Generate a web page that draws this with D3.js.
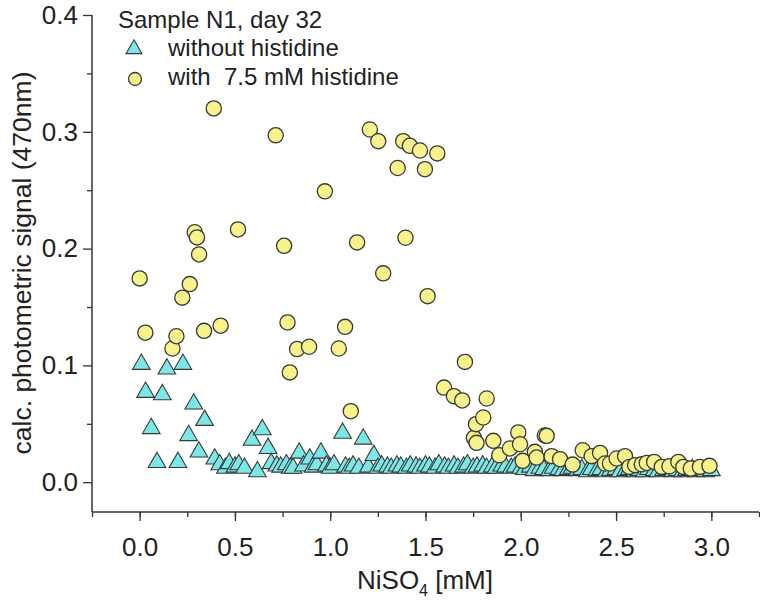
<!DOCTYPE html>
<html>
<head>
<meta charset="utf-8">
<script src="https://cdn.jsdelivr.net/npm/d3@7"></script>
<style>
  html, body { margin: 0; padding: 0; background: #fff; }
  svg text { font-family: "Liberation Sans", Arial, sans-serif; fill: #222; }
</style>
</head>
<body>
<svg id="chart" width="760" height="600"></svg>
<script>
// ---- data ----
const legendTitle = "Sample N1, day 32";
const seriesNames = ["without histidine", "with  7.5 mM histidine"];
const xTicks = [0.0, 0.5, 1.0, 1.5, 2.0, 2.5, 3.0];
const yTicks = [0.0, 0.1, 0.2, 0.3, 0.4];

// without histidine (triangles)
const xWithout = [0.009,0.031,0.061,0.091,0.119,0.143,0.201,0.227,0.257,0.284,0.311,0.341,0.394,
  0.42,0.45,0.47,0.50,0.52,0.55,0.59,0.618,0.644,0.674,0.69,0.72,0.74,0.77,0.79,0.805,0.837,0.86,0.893,0.91,0.93,0.951,0.98,1.00,1.02,1.065,1.08,1.10,1.12,1.15,1.173,1.20,1.229,1.25,1.27,1.30,1.32,1.35,1.37,1.40,1.42,1.45,1.47,1.50,1.52,1.55,1.57,1.60,1.62,1.65,1.67,1.70,1.72,1.75,1.77,1.80,1.82,1.85,1.87,1.90,1.92,1.95,1.97,2.00,2.02,2.05,2.07,2.10,2.12,2.15,2.17,2.20,2.22,2.25,2.27,2.30,2.32,2.35,2.37,2.40,2.42,2.45,2.47,2.50,2.52,2.55,2.57,2.60,2.62,2.65,2.67,2.70,2.72,2.75,2.77,2.80,2.82,2.85,2.87,2.90,2.92,2.95,2.97,3.00];
const yWithout = [0.101,0.077,0.046,0.017,0.075,0.097,0.017,0.101,0.040,0.067,0.026,0.053,0.020,
  0.015,0.012,0.016,0.013,0.015,0.012,0.036,0.009,0.045,0.029,0.016,0.014,0.013,0.015,0.012,0.012,0.025,0.014,0.020,0.013,0.015,0.025,0.014,0.012,0.015,0.042,0.013,0.012,0.014,0.012,0.037,0.013,0.023,0.012,0.014,0.013,0.012,0.014,0.013,0.012,0.014,0.013,0.012,0.014,0.013,0.012,0.015,0.013,0.012,0.014,0.012,0.013,0.015,0.012,0.013,0.014,0.012,0.013,0.012,0.014,0.013,0.012,0.013,0.012,0.011,0.013,0.010,0.012,0.011,0.010,0.012,0.011,0.010,0.011,0.012,0.010,0.011,0.009,0.011,0.010,0.011,0.009,0.010,0.011,0.009,0.010,0.011,0.009,0.010,0.009,0.011,0.010,0.009,0.010,0.011,0.009,0.010,0.009,0.010,0.011,0.009,0.010,0.009,0.010];

// with 7.5 mM histidine (circles)
const xWith = [0.000,0.030,0.172,0.193,0.224,0.263,0.289,0.301,0.312,0.338,0.389,0.425,0.516,0.714,0.758,0.776,0.788,0.826,0.889,0.972,1.045,1.078,1.108,1.141,1.208,1.252,1.278,1.354,1.383,1.395,1.418,1.471,1.497,1.511,1.562,1.597,1.649,1.693,1.707,1.754,1.765,1.768,1.803,1.821,1.856,1.887,1.943,1.987,1.996,2.010,2.074,2.083,2.126,2.136,2.162,2.206,2.272,2.325,2.372,2.416,2.442,2.468,2.503,2.547,2.570,2.600,2.635,2.661,2.700,2.740,2.780,2.827,2.853,2.892,2.940,2.990];
const yWith = [0.1745,0.128,0.1145,0.125,0.158,0.1696,0.214,0.2096,0.195,0.1296,0.320,0.134,0.2164,0.297,0.2024,0.1368,0.094,0.114,0.116,0.249,0.1145,0.133,0.0608,0.2053,0.302,0.292,0.1788,0.269,0.292,0.2093,0.288,0.284,0.268,0.1593,0.2815,0.081,0.0737,0.070,0.103,0.038,0.0497,0.0337,0.0554,0.0717,0.0354,0.0231,0.0289,0.0426,0.0325,0.0183,0.026,0.0211,0.040,0.0397,0.0223,0.0197,0.0151,0.0274,0.0223,0.0251,0.016,0.016,0.0203,0.0223,0.0131,0.0146,0.0154,0.0165,0.0174,0.0131,0.0137,0.0174,0.0131,0.0117,0.0131,0.014];

// ---- drawing ----
const svg = d3.select("#chart");
const x = d3.scaleLinear().domain([-0.25, 3.25]).range([92, 759]);
const y = d3.scaleLinear().domain([-0.0255, 0.4]).range([512, 15]);

const axisColor = "#333";
const tickFont = 26;

// x axis
const gx = svg.append("g").attr("transform", "translate(0,512)");
gx.append("g").call(d3.axisBottom(x).tickValues(d3.range(-0.25, 3.26, 0.25)).tickFormat("").tickSize(5).tickSizeOuter(0));
gx.append("g").call(d3.axisBottom(x).tickValues(xTicks).tickFormat(d3.format(".1f")).tickSize(9).tickPadding(17));
gx.selectAll("path.domain").remove();
gx.selectAll("line").attr("stroke", axisColor).attr("stroke-width", 1.3);
gx.selectAll("text").style("font-size", tickFont + "px").attr("fill", "#222");

// y axis
const gy = svg.append("g").attr("transform", "translate(92,0)");
gy.append("g").call(d3.axisLeft(y).tickValues([0.05,0.15,0.25,0.35]).tickFormat("").tickSize(5).tickSizeOuter(0));
gy.append("g").call(d3.axisLeft(y).tickValues(yTicks).tickFormat(d3.format(".1f")).tickSize(9).tickPadding(5));
gy.selectAll("path.domain").remove();
gy.selectAll("line").attr("stroke", axisColor).attr("stroke-width", 1.3);
gy.selectAll("text").style("font-size", tickFont + "px").attr("fill", "#222");

// axis lines
svg.append("line").attr("x1", 92).attr("x2", 759).attr("y1", 512).attr("y2", 512).attr("stroke", axisColor).attr("stroke-width", 1.5);
svg.append("line").attr("x1", 92).attr("x2", 92).attr("y1", 15).attr("y2", 512).attr("stroke", axisColor).attr("stroke-width", 1.5);

// axis titles
const xt = svg.append("text").attr("x", 425).attr("y", 589).attr("text-anchor", "middle").style("font-size", "26px");
xt.append("tspan").text("NiSO");
xt.append("tspan").text("4").attr("dy", 7).style("font-size", "16px");
xt.append("tspan").text(" [mM]").attr("dy", -7);

svg.append("text").attr("transform", "translate(31,263) rotate(-90)")
  .attr("text-anchor", "middle").style("font-size", "26.5px")
  .text("calc. photometric signal (470nm)");

// marks
const triFill = "#7de6e6", circFill = "#f7f28a", markStroke = "#3a3a3a";
const tri = d3.symbol().type(d3.symbolTriangle).size(135);
const triData = xWithout.map((v, i) => [v, yWithout[i]]);
const circData = xWith.map((v, i) => [v, yWith[i]]);

svg.append("g").selectAll("path").data(triData).join("path")
  .attr("d", tri)
  .attr("transform", d => `translate(${x(d[0])},${y(d[1])})`)
  .attr("fill", triFill).attr("stroke", markStroke).attr("stroke-width", 1.1);

svg.append("g").selectAll("circle").data(circData).join("circle")
  .attr("cx", d => x(d[0])).attr("cy", d => y(d[1])).attr("r", 7.6)
  .attr("fill", circFill).attr("stroke", markStroke).attr("stroke-width", 1.3);

// legend
const legFont = "24px";
svg.append("text").attr("x", 118).attr("y", 28).style("font-size", legFont).text(legendTitle);
svg.append("path").attr("d", d3.symbol().type(d3.symbolTriangle).size(110))
  .attr("transform", "translate(134,49)").attr("fill", triFill).attr("stroke", markStroke).attr("stroke-width", 1.1);
svg.append("text").attr("x", 168).attr("y", 56).style("font-size", legFont).text(seriesNames[0]);
svg.append("circle").attr("cx", 135).attr("cy", 79).attr("r", 6.5)
  .attr("fill", circFill).attr("stroke", markStroke).attr("stroke-width", 1.3);
svg.append("text").attr("x", 168).attr("y", 85).style("font-size", legFont).style("white-space", "pre").text(seriesNames[1]);
</script>
</body>
</html>
